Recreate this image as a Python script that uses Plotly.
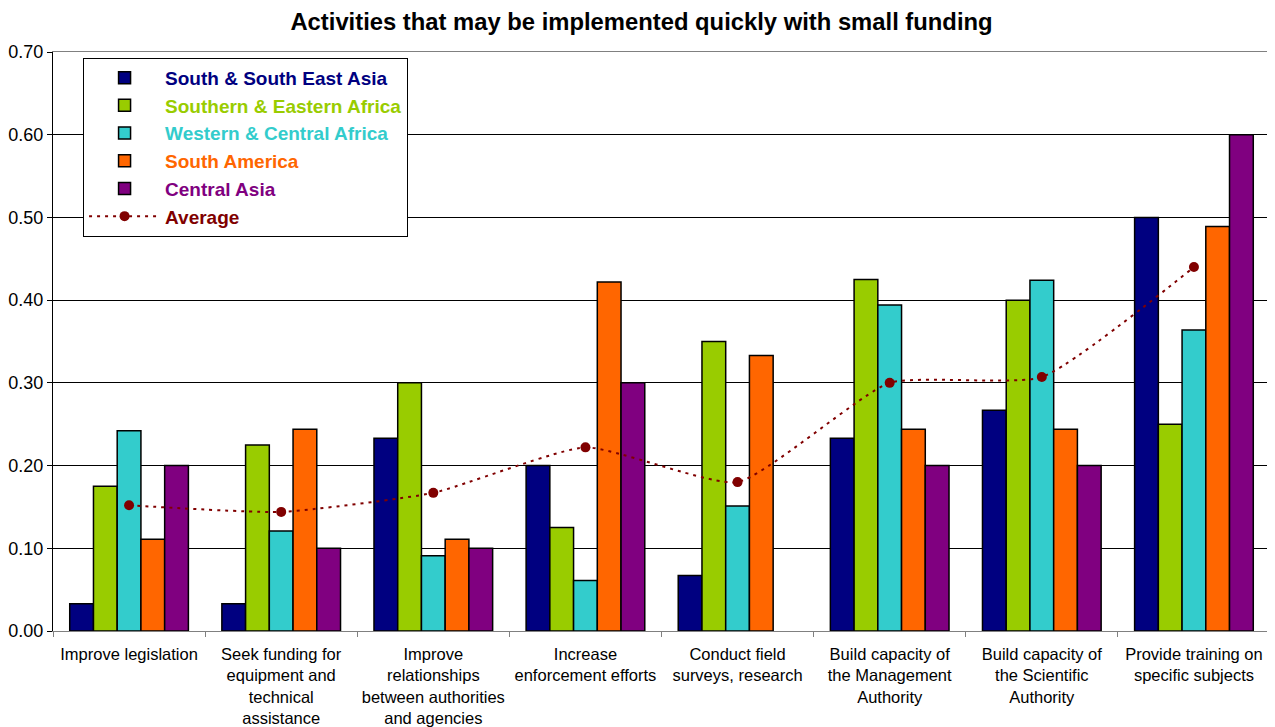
import plotly.graph_objects as go

categories = [
    "Improve legislation",
    "Seek funding for<br>equipment and<br>technical<br>assistance",
    "Improve<br>relationships<br>between authorities<br>and agencies",
    "Increase<br>enforcement efforts",
    "Conduct field<br>surveys, research",
    "Build capacity of<br>the Management<br>Authority",
    "Build capacity of<br>the Scientific<br>Authority",
    "Provide training on<br>specific subjects",
]

south_se_asia = [0.033, 0.033, 0.233, 0.200, 0.067, 0.233, 0.267, 0.500]
southern_eastern_africa = [0.175, 0.225, 0.300, 0.125, 0.350, 0.425, 0.400, 0.250]
western_central_africa = [0.242, 0.121, 0.091, 0.061, 0.151, 0.394, 0.424, 0.364]
south_america = [0.111, 0.244, 0.111, 0.422, 0.333, 0.244, 0.244, 0.489]
central_asia = [0.200, 0.100, 0.100, 0.300, None, 0.200, 0.200, 0.600]
average = [0.152, 0.144, 0.167, 0.222, 0.180, 0.300, 0.307, 0.440]

series = [
    ("South & South East Asia", south_se_asia, "#000080"),
    ("Southern & Eastern Africa", southern_eastern_africa, "#99CC00"),
    ("Western & Central Africa", western_central_africa, "#33CCCC"),
    ("South America", south_america, "#FF6600"),
    ("Central Asia", central_asia, "#800080"),
]

fig = go.Figure()
for name, vals, col in series:
    fig.add_trace(go.Bar(
        x=categories, y=vals,
        name=f"<span style='color:{col}'><b>{name}</b></span>",
        marker=dict(color=col, line=dict(color="#000000", width=1.5)),
    ))

fig.add_trace(go.Scatter(
    x=categories, y=average, mode="lines+markers",
    name="<span style='color:#800000'><b>Average</b></span>",
    line=dict(color="#800000", width=2, dash="3px,5px", shape="spline", smoothing=0.5),
    marker=dict(color="#800000", size=10),
))

fig.update_layout(
    width=1267, height=719,
    paper_bgcolor="white", plot_bgcolor="white",
    font=dict(family="Liberation Sans, Arial, sans-serif", size=16, color="#000000"),
    title=dict(text="<b>Activities that may be implemented quickly with small funding</b>",
               x=0.5, xanchor="center", y=0.9805, yanchor="middle",
               font=dict(size=23.8, color="#000000")),
    margin=dict(l=45, r=5, t=44, b=96),
    barmode="group", bargap=0.22, bargroupgap=0,
    showlegend=True,
    legend=dict(x=0.0247, y=0.99, xanchor="left", yanchor="top",
                bgcolor="white", bordercolor="#000000", borderwidth=1,
                font=dict(size=19), traceorder="normal", itemwidth=71),
)
fig.update_xaxes(
    type="category", tickson="boundaries", ticks="outside", ticklen=5,
    tickcolor="#808080", showline=True, linecolor="#808080", linewidth=1,
    mirror=True, showgrid=False, tickfont=dict(size=16.5), tickangle=0,
    automargin=False, ticklabelstandoff=8,
)
fig.update_yaxes(
    range=[0, 0.70], dtick=0.1, tickformat=".2f", ticks="outside", ticklen=5,
    tickcolor="#000000", showline=True, linecolor="#000000", linewidth=1,
    mirror=True, showgrid=True, gridcolor="#000000", gridwidth=1,
    zeroline=False, tickfont=dict(size=18), automargin=False,
)

fig.write_html("out.html")
